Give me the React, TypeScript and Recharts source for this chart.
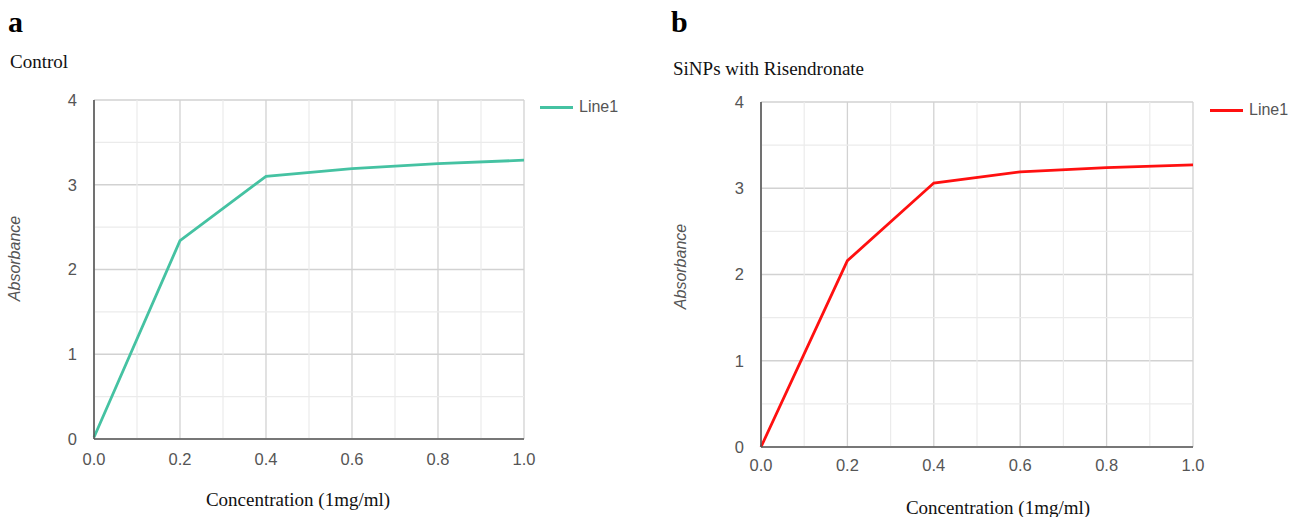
import React from 'react';
import { LineChart, Line, XAxis, YAxis, CartesianGrid, ReferenceLine, Legend } from 'recharts';

const concentrations = [0, 0.2, 0.4, 0.6, 0.8, 1.0];
const controlValues = [0.02, 2.34, 3.1, 3.19, 3.25, 3.29];
const risendronateValues = [0, 2.16, 3.06, 3.19, 3.24, 3.27];
const xTicks = [0, 0.2, 0.4, 0.6, 0.8, 1.0];
const yTicks = [0, 1, 2, 3, 4];
const xMinor = [0.1, 0.3, 0.5, 0.7, 0.9];
const yMinor = [0.5, 1.5, 2.5, 3.5];

const dataA = concentrations.map((c, i) => ({ x: c, y: controlValues[i] }));
const dataB = concentrations.map((c, i) => ({ x: c, y: risendronateValues[i] }));

const SANS = '"Liberation Sans", Arial, sans-serif';
const SERIF = '"Liberation Serif", "Times New Roman", serif';

const makeLegend = (color: string) => () => (
  <div style={{ display: 'flex', alignItems: 'center', fontFamily: SANS, fontSize: 16, color: '#555' }}>
    <div style={{ width: 33, height: 3, background: color, marginRight: 6 }} />
    <span>Line1</span>
  </div>
);

type PanelProps = {
  data: { x: number; y: number }[];
  color: string;
  width: number;
  yAxisWidth: number;
  marginRight: number;
  marginTop: number;
  xAxisHeight: number;
  yLabelOffset: number;
  yLabelDy: number;
  xLabelOffset: number;
  xLabelDx: number;
  legendLeft: number;
  legendTop: number;
  tickDy: number;
};

function Panel(p: PanelProps) {
  return (
    <LineChart width={p.width} height={517} data={p.data} margin={{ top: p.marginTop, right: p.marginRight, bottom: 0, left: 0 }}>
      <CartesianGrid stroke="#d2d2d2" strokeWidth={1.3} />
      {xMinor.map((v) => (
        <ReferenceLine key={'vx' + v} x={v} stroke="#ebebeb" strokeWidth={1.2} />
      ))}
      {yMinor.map((v) => (
        <ReferenceLine key={'hy' + v} y={v} stroke="#ebebeb" strokeWidth={1.2} />
      ))}
      <XAxis
        dataKey="x"
        type="number"
        domain={[0, 1]}
        ticks={xTicks}
        tickFormatter={(v: number) => v.toFixed(1)}
        height={p.xAxisHeight}
        tickSize={0}
        tickMargin={p.tickDy}
        axisLine={{ stroke: '#555', strokeWidth: 1.6 }}
        tick={{ fill: '#555', fontSize: 16.5, fontFamily: SANS }}
        label={{ value: 'Concentration (1mg/ml)', position: 'insideBottom', offset: p.xLabelOffset, dx: p.xLabelDx, style: { fontFamily: SERIF, fontSize: 19, fill: '#111' } }}
      />
      <YAxis
        type="number"
        domain={[0, 4]}
        ticks={yTicks}
        width={p.yAxisWidth}
        tickSize={0}
        tickMargin={17}
        axisLine={{ stroke: '#555', strokeWidth: 1.6 }}
        tick={{ fill: '#555', fontSize: 16.5, fontFamily: SANS }}
        label={{ value: 'Absorbance', angle: -90, position: 'insideLeft', offset: p.yLabelOffset, dy: p.yLabelDy, style: { textAnchor: 'middle', fontFamily: SANS, fontStyle: 'italic', fontSize: 16, fill: '#555' } }}
      />
      <Legend layout="vertical" align="center" verticalAlign="middle" content={makeLegend(p.color)} wrapperStyle={{ left: p.legendLeft, top: p.legendTop, width: 100 }} />
      <Line type="linear" dataKey="y" name="Line1" stroke={p.color} strokeWidth={2.8} dot={false} isAnimationActive={false} />
    </LineChart>
  );
}

export default function App() {
  return (
    <div style={{ position: 'absolute', left: 0, top: 0, width: 1299, height: 517, background: '#fff', overflow: 'hidden' }}>
      <div style={{ position: 'absolute', left: 8, top: 7, fontFamily: SERIF, fontWeight: 'bold', fontSize: 30, lineHeight: 1 }}>a</div>
      <div style={{ position: 'absolute', left: 10, top: 52, fontFamily: SERIF, fontSize: 19, lineHeight: 1, color: '#111' }}>Control</div>
      <div style={{ position: 'absolute', left: 671, top: 7, fontFamily: SERIF, fontWeight: 'bold', fontSize: 30, lineHeight: 1 }}>b</div>
      <div style={{ position: 'absolute', left: 673, top: 59, fontFamily: SERIF, fontSize: 19, lineHeight: 1, color: '#111' }}>SiNPs with Risendronate</div>
      <div style={{ position: 'absolute', left: 0, top: 0 }}>
        <Panel
          data={dataA}
          color="#45c2a2"
          width={650}
          yAxisWidth={94}
          marginRight={126}
          marginTop={100}
          xAxisHeight={78}
          yLabelOffset={14}
          yLabelDy={-11}
          xLabelOffset={11}
          xLabelDx={-11}
          legendLeft={540}
          legendTop={98}
          tickDy={14}
        />
      </div>
      <div style={{ position: 'absolute', left: 650, top: 0 }}>
        <Panel
          data={dataB}
          color="#ff1010"
          width={649}
          yAxisWidth={111}
          marginRight={106}
          marginTop={102}
          xAxisHeight={70}
          yLabelOffset={30}
          yLabelDy={-8}
          xLabelOffset={3}
          xLabelDx={21}
          legendLeft={560}
          legendTop={101}
          tickDy={12}
        />
      </div>
    </div>
  );
}
